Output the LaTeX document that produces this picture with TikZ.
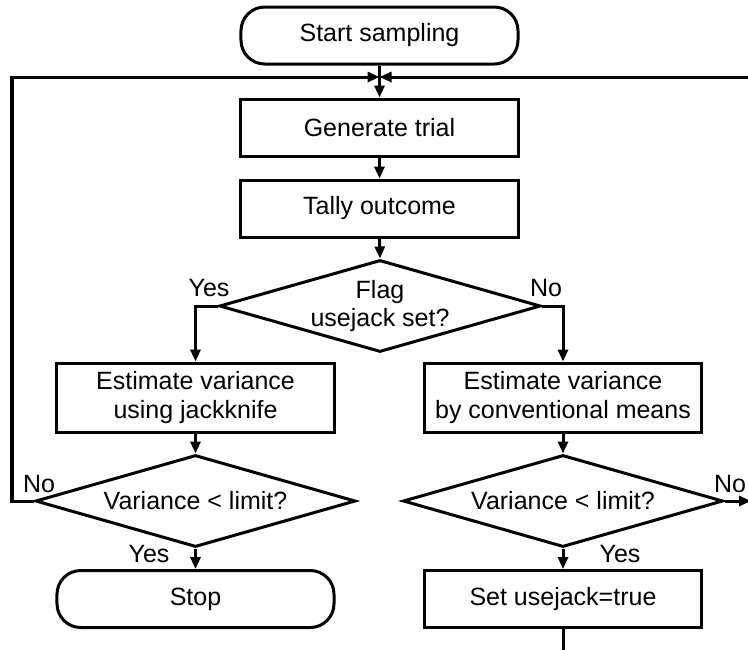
\documentclass[tikz,border=0pt]{standalone}
\usepackage{fontspec}
\setmainfont{Liberation Sans}
\usetikzlibrary{shapes.geometric,arrows.meta}

\begin{document}
\begin{tikzpicture}[x=0.4pt, y=-0.4pt, line width=1.2pt,
  font=\fontsize{10}{11.5}\selectfont,
  proc/.style={draw, rectangle, minimum width=110.8pt, minimum height=22.8pt, inner sep=1pt, align=center},
  proctall/.style={proc, minimum height=27.6pt},
  term/.style={proc, rounded corners=9.5pt},
  decision/.style={draw, diamond, aspect=3.5, inner sep=0pt, minimum width=128pt, minimum height=36.8pt, align=center},
  flow/.style={-{Triangle[length=4.8pt,width=4pt]}},
  lbl/.style={inner sep=0pt}]
\useasboundingbox (0,0) rectangle (748,649);

\node[term] (start) at (379.5,35.5) {Start sampling};
\node[proc] (gen) at (379.5,127.5) {Generate trial};
\node[proc] (tally) at (379.5,208.5) {Tally outcome};
\node[decision] (flag) at (380,306) {Flag\\usejack set?};
\node[proctall] (estL) at (195.5,397.5) {Estimate variance\\using jackknife};
\node[proctall] (estR) at (563,397.5) {Estimate variance\\by conventional means};
\node[decision] (varL) at (195.5,501) {Variance < limit?};
\node[decision] (varR) at (563,501) {Variance < limit?};
\node[term] (stop) at (195.5,599) {Stop};
\node[proc] (setjack) at (563,599) {Set usejack=true};

\coordinate (merge) at (379.5,77);
\coordinate (loopL) at (12,77);
\coordinate (loopR) at (752,77);
\coordinate (exitR) at (751,501);
\coordinate (exitB) at (563,656);

\draw[flow] (start.south) -- (gen.north);
\draw[flow] (gen.south) -- (tally.north);
\draw[flow] (tally.south) -- (flag.north);
\draw[flow] (flag.west) -| (estL.north);
\draw[flow] (flag.east) -| (estR.north);
\draw[flow] (estL.south) -- (varL.north);
\draw[flow] (estR.south) -- (varR.north);
\draw[flow] (varL.south) -- (stop.north);
\draw[flow] (varR.south) -- (setjack.north);
\draw[flow] (varL.west) -| (loopL) -- (merge);
\draw[flow] (loopR) -- (merge);
\draw[flow] (varR.east) -- (exitR);
\draw (setjack.south) -- (exitB);

\node[lbl] (yesF) at (209,288) {Yes};
\node[lbl] (noF) at (546,288) {No};
\node[lbl] (noL) at (39,484) {No};
\node[lbl] (yesL) at (149,554) {Yes};
\node[lbl] (noR) at (730,484) {No};
\node[lbl] (yesR) at (620,554) {Yes};
\end{tikzpicture}
\end{document}
